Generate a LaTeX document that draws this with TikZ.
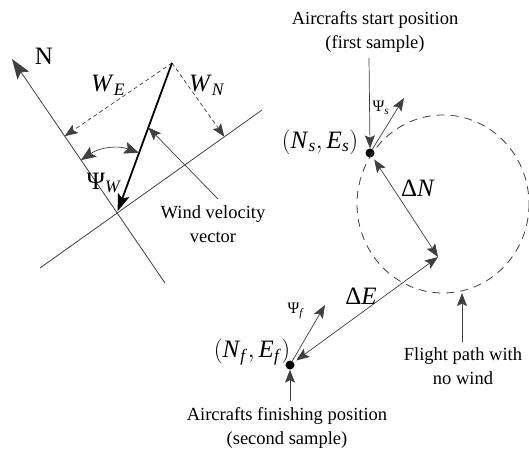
\documentclass[tikz,border=0pt]{standalone}
\usepackage{fontspec}
\setmainfont{Liberation Serif}
\usetikzlibrary{arrows.meta, calc, positioning}

\newcommand{\sub}[2]{\textit{#1}\textsubscript{\textit{#2}}}

\begin{document}
\begin{tikzpicture}[x=1pt, y=-1pt, >={Stealth[length=13pt,width=10pt,inset=2.5pt]}]
    \tikzstyle{axis} = [draw=black!75, line width=0.8pt]
    \tikzstyle{guide} = [draw=black!75, line width=0.7pt]
    \tikzstyle{bighead} = [-{Stealth[length=20pt,width=14pt,inset=4pt]}]
    \tikzstyle{archead} = [{Stealth[length=15pt,width=12pt,inset=3pt]}-{Stealth[length=15pt,width=12pt,inset=3pt]}]
    \tikzstyle{proj} = [guide, dash pattern=on 4pt off 3pt, ->]
    \tikzstyle{caption} = [align=center, font=\fontsize{18.5}{24}\selectfont, inner sep=0pt]
    \tikzstyle{sym} = [font=\fontsize{25}{28}\selectfont, inner sep=0pt]
    \tikzstyle{small} = [font=\fontsize{16}{18}\selectfont, inner sep=0pt]
    \tikzstyle{dot} = [circle, fill=black, inner sep=0pt, minimum size=9pt]

    \useasboundingbox (0,0) rectangle (529,449);

    % wind triangle
    \coordinate (O) at (117,213);
    \coordinate (Ntip) at (12,59);
    \coordinate (Nend) at (165,283);
    \coordinate (Ea) at (40,268);
    \coordinate (Eb) at (262,110);
    \coordinate (T) at (172,63);
    \coordinate (WEfoot) at ($(O)!(T)!(Ntip)$);
    \coordinate (WNfoot) at ($(O)!(T)!(Eb)$);
    \coordinate (arcN) at ($(O)!64pt!(Ntip)$);
    \coordinate (arcW) at ($(O)!64pt!(T)$);

    \draw[axis, bighead] (Nend) -- (Ntip);
    \draw[axis] (Ea) -- (Eb);
    \draw[proj] (T) -- (WEfoot);
    \draw[proj] (T) -- (WNfoot);
    \draw[line width=1.8pt, -{Stealth[length=17pt,width=12pt,inset=3.5pt]}, shorten >=2pt] (T) -- (O);
    \draw[guide, archead] (arcN) to[bend left=27] (arcW);

    \node[sym] (north) at (44,56) {N};
    \node[sym] (we) at (108,85) {\sub{W}{E}};
    \node[sym] (wn) at (207,85) {\sub{W}{N}};
    \node[sym] (psiw) at (104,183) {Ψ\textsubscript{\textit{W}}};

    \node[caption] (windtxt) at (213,224) {Wind velocity\\vector};
    \coordinate (windptr) at (218,199);
    \draw[guide, ->] (windptr) -- ($(T)!0.43!(O)$);

    % flight path
    \node[dot] (Ns) at (370,153) {};
    \node[dot] (Nf) at (290,365) {};
    \coordinate (Pe) at (438,257);
    \coordinate (psis) at (404,98);
    \coordinate (psif) at (325,305);

    \draw[axis, dash pattern=on 8pt off 6pt] (443,204) circle[x radius=86, y radius=89];

    \draw[guide, <->, shorten <=3pt] (Ns) -- (Pe);
    \draw[guide, <->, shorten <=3pt] (Nf) -- (Pe);
    \draw[guide, ->] (Ns) -- (psis);
    \draw[guide, ->] (Nf) -- (psif);

    \node[sym] (dn) at (418,188) {Δ\textit{N}};
    \node[sym] (de) at (361,296) {Δ\textit{E}};
    \node[small] (psislbl) at (381,108) {Ψ\textsubscript{\textit{s}}};
    \node[small] (psiflbl) at (296,311) {Ψ\textsubscript{\textit{f}}};
    \node[sym] (nslbl) at (320,142) {$\left(\mbox{\sub{N}{s}},\mbox{\sub{E}{s}}\right)$};
    \node[sym] (nflbl) at (252,352) {$\left(\mbox{\sub{N}{f}},\mbox{\sub{E}{f}}\right)$};

    \node[caption] (starttxt) at (375,32) {Aircrafts start position\\(first sample)};
    \coordinate (startptr) at (369,58);
    \draw[guide, ->] (startptr) -- (Ns.north);

    \node[caption] (finishtxt) at (287,428) {Aircrafts finishing position\\(second sample)};
    \coordinate (finishptr) at (290,401);
    \draw[guide, ->] (finishptr) -- (Nf.south);

    \node[caption] (flighttxt) at (463,366) {Flight path with\\no wind};
    \coordinate (flightptr) at (462,342);
    \coordinate (flightpt) at (462,293);
    \draw[guide, ->] (flightptr) -- (flightpt);
\end{tikzpicture}
\end{document}
